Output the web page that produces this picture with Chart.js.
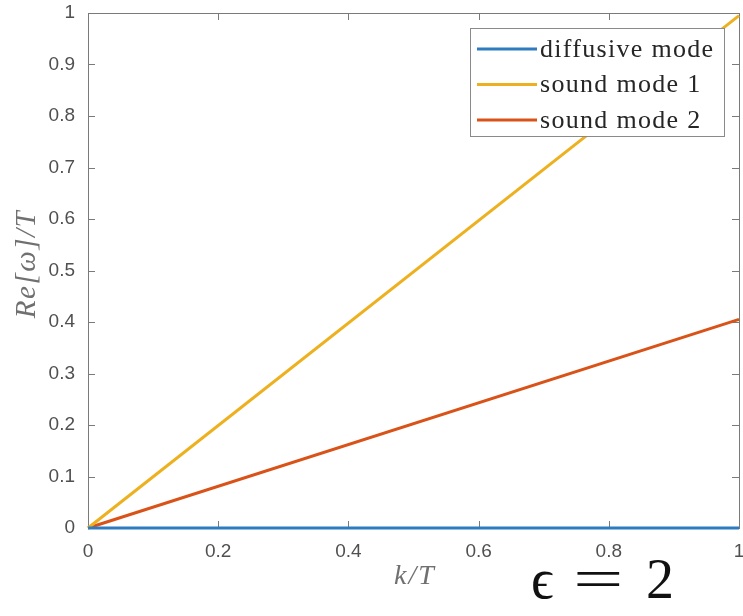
<!DOCTYPE html>
<html>
<head>
<meta charset="utf-8">
<script src="https://cdn.jsdelivr.net/npm/chart.js@4.4.0/dist/chart.umd.min.js"></script>
<style>
  html, body { margin: 0; padding: 0; background: #fff; }
  #wrap { width: 743px; height: 616px; position: relative; }
</style>
</head>
<body>
<div id="wrap"><canvas id="modesChart" width="743" height="616"></canvas></div>
<script>
const kValues = [0, 1];
const diffusiveMode = [0, 0];
const soundMode1 = [0, 0.995];
const soundMode2 = [0, 0.405];
const seriesLabels = ["diffusive mode", "sound mode 1", "sound mode 2"];
const seriesColors = ["#2f7bc0", "#edb120", "#d95319"];
const xTickLabels = ["0", "0.2", "0.4", "0.6", "0.8", "1"];
const yTickLabels = ["0", "0.1", "0.2", "0.3", "0.4", "0.5", "0.6", "0.7", "0.8", "0.9", "1"];

const toPoints = (ys) => kValues.map((k, i) => ({ x: k, y: ys[i] }));

// box around the axes with inward ticks, like matlab
const axesBox = {
  id: "axesBox",
  beforeDatasetsDraw(chart) {
    const { ctx, chartArea: a, scales } = chart;
    ctx.save();
    ctx.strokeStyle = "#7a7a7a";
    ctx.lineWidth = 1;
    ctx.strokeRect(a.left + 0.5, a.top + 0.5, a.right - a.left, a.bottom - a.top);
    ctx.beginPath();
    scales.x.ticks.forEach((t) => {
      const px = Math.round(scales.x.getPixelForValue(t.value)) + 0.5;
      ctx.moveTo(px, a.bottom); ctx.lineTo(px, a.bottom - 7);
      ctx.moveTo(px, a.top); ctx.lineTo(px, a.top + 7);
    });
    scales.y.ticks.forEach((t) => {
      const py = Math.round(scales.y.getPixelForValue(t.value)) + 0.5;
      ctx.moveTo(a.left, py); ctx.lineTo(a.left + 7, py);
      ctx.moveTo(a.right, py); ctx.lineTo(a.right - 7, py);
    });
    ctx.stroke();
    ctx.restore();
  },
  afterDraw(chart) {
    const { ctx } = chart;
    ctx.save();
    // axis titles
    ctx.fillStyle = "#707070";
    ctx.font = "italic 28px 'Liberation Serif', serif";
    ctx.textAlign = "center";
    ctx.textBaseline = "middle";
    ctx.letterSpacing = "2px";
    ctx.fillText("k/T", 415, 577);
    ctx.font = "italic 29px 'Liberation Serif', serif";
    ctx.letterSpacing = "1.5px";
    ctx.translate(27, 264);
    ctx.rotate(-Math.PI / 2);
    ctx.fillText("Re[ω]/T", 0, 0);
    ctx.restore();

    // epsilon label under the plot
    ctx.save();
    ctx.fillStyle = "#111";
    ctx.font = "56px 'Liberation Serif', 'DejaVu Serif', serif";
    ctx.textBaseline = "alphabetic";
    ctx.textAlign = "left";
    ctx.fillText("ϵ", 531, 598);
    ctx.fillText("2", 646, 598);
    ctx.translate(573, 598);
    ctx.scale(1.6, 1);
    ctx.fillText("=", 0, 0);
    ctx.restore();
  }
};

// legend box inside the plot area, top right
const boxLegend = {
  id: "boxLegend",
  afterDatasetsDraw(chart) {
    const { ctx } = chart;
    const x0 = 470, y0 = 28, w = 254, h = 108;
    ctx.save();
    ctx.fillStyle = "#fff";
    ctx.fillRect(x0, y0, w, h);
    ctx.strokeStyle = "#8a8a8a";
    ctx.lineWidth = 1;
    ctx.strokeRect(x0 + 0.5, y0 + 0.5, w, h);
    ctx.font = "26px 'Liberation Serif', serif";
    ctx.letterSpacing = "1.3px";
    ctx.textBaseline = "middle";
    chart.data.datasets.forEach((ds, i) => {
      const cy = 49 + i * 35.5;
      ctx.strokeStyle = ds.borderColor;
      ctx.lineWidth = 3;
      ctx.beginPath();
      ctx.moveTo(477, cy);
      ctx.lineTo(537, cy);
      ctx.stroke();
      ctx.fillStyle = "#262626";
      ctx.fillText(ds.label, 540, cy + 1);
    });
    ctx.restore();
  }
};

new Chart(document.getElementById("modesChart"), {
  type: "line",
  data: {
    datasets: [
      { label: seriesLabels[0], data: toPoints(diffusiveMode), borderColor: seriesColors[0] },
      { label: seriesLabels[1], data: toPoints(soundMode1), borderColor: seriesColors[1] },
      { label: seriesLabels[2], data: toPoints(soundMode2), borderColor: seriesColors[2] }
    ].map((d) => Object.assign(d, { borderWidth: 3, pointRadius: 0, fill: false, tension: 0, clip: 4 }))
  },
  options: {
    responsive: false,
    animation: false,
    devicePixelRatio: 1,
    layout: { padding: { top: 13, right: 4, left: 0, bottom: 0 } },
    plugins: { legend: { display: false }, tooltip: { enabled: false } },
    scales: {
      x: {
        type: "linear",
        min: 0,
        max: 1,
        grid: { display: false },
        border: { display: false },
        ticks: {
          stepSize: 0.2,
          padding: 4,
          color: "#505050",
          font: { family: "'Liberation Sans', Arial, sans-serif", size: 19 },
          maxRotation: 0,
          callback: (v, i) => xTickLabels[i]
        },
        afterFit: (s) => { s.height = 88; s.paddingLeft = 0; s.paddingRight = 0; }
      },
      y: {
        type: "linear",
        min: 0,
        max: 1,
        grid: { display: false },
        border: { display: false },
        ticks: {
          stepSize: 0.1,
          padding: 5,
          color: "#505050",
          font: { family: "'Liberation Sans', Arial, sans-serif", size: 19 },
          callback: (v, i) => yTickLabels[i]
        },
        afterFit: (s) => { s.width = 88; s.paddingTop = 0; s.paddingBottom = 0; }
      }
    }
  },
  plugins: [axesBox, boxLegend]
});
</script>
</body>
</html>
